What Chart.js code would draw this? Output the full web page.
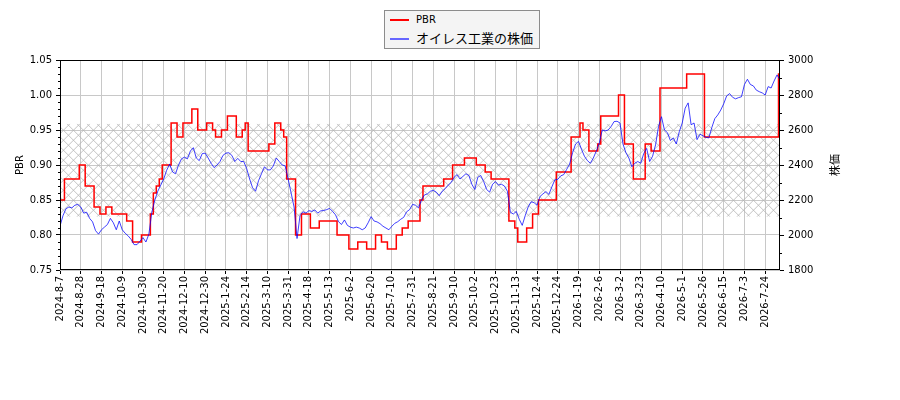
<!DOCTYPE html>
<html>
<head>
<meta charset="utf-8">
<script src="https://cdn.jsdelivr.net/npm/chart.js@4.4.1/dist/chart.umd.min.js"></script>
<style>
    html, body { margin: 0; padding: 0; background: #fff; }
    #wrap { position: relative; width: 900px; height: 400px; }
    #legend {
        position: absolute; left: 384px; top: 10px; width: 154px; height: 37px;
        border: 1px solid #8c8c8c; background: #f4f4f4;
        font-family: "DejaVu Sans", "Noto Sans CJK JP", sans-serif; color: #000;
    }
    .item { position: absolute; left: 0; width: 154px; height: 18px; }
    .swatch { position: absolute; left: 5px; top: 8px; width: 19px; height: 0; }
    .lbl { position: absolute; left: 31px; top: 0; line-height: 18px; white-space: nowrap; }
</style>
</head>
<body>
<div id="wrap">
    <canvas id="chart" width="900" height="400"></canvas>
    <div id="legend">
        <div class="item" style="top:0px"><div class="swatch" style="border-top:2px solid #ff0000"></div><span class="lbl" style="font-size:10px">PBR</span></div>
        <div class="item" style="top:19px"><div class="swatch" style="border-top:2px solid #6666ff"></div><span class="lbl" style="font-size:13px">オイレス工業の株価</span></div>
    </div>
</div>
<script>
// tick labels every 14 trading days, data sampled every 2 trading days (7 samples per tick)
const tickLabels = ['2024-8-7','2024-8-28','2024-9-18','2024-10-9','2024-10-30','2024-11-20','2024-12-10','2024-12-30',
    '2025-1-24','2025-2-14','2025-3-10','2025-3-31','2025-4-18','2025-5-13','2025-6-2','2025-6-20','2025-7-10',
    '2025-7-31','2025-8-21','2025-9-10','2025-10-2','2025-10-23','2025-11-13','2025-12-4','2025-12-24',
    '2026-1-19','2026-2-6','2026-3-2','2026-3-23','2026-4-10','2026-5-1','2026-5-26','2026-6-15','2026-7-3','2026-7-24'];
const samplesPerTick = 7;

// stock price (right axis)
const priceValues = [
    2051,2110,2150,2160,2155,2170,2175,2160,2125,2130,
    2095,2075,2025,2005,2030,2045,2060,2095,2070,2030,
    2080,2030,2010,1995,1975,1945,1945,1965,1985,1960,
    2005,2130,2200,2250,2285,2320,2370,2405,2360,2350,
    2400,2435,2445,2435,2480,2499,2440,2425,2465,2468,
    2440,2410,2385,2400,2420,2455,2468,2470,2455,2420,
    2438,2420,2420,2380,2320,2270,2250,2310,2350,2390,
    2372,2372,2395,2440,2420,2400,2395,2320,2240,2160,
    1980,2110,2133,2125,2139,2135,2143,2125,2138,2140,
    2145,2152,2135,2115,2076,2060,2086,2055,2045,2040,
    2045,2040,2030,2040,2070,2105,2080,2075,2065,2050,
    2040,2030,2050,2067,2076,2090,2101,2133,2145,2175,
    2170,2155,2200,2229,2235,2250,2255,2245,2225,2250,
    2265,2285,2300,2330,2345,2320,2335,2350,2340,2290,
    2260,2330,2340,2305,2260,2245,2290,2305,2285,2290,
    2280,2250,2130,2120,2135,2090,2055,2110,2160,2190,
    2185,2170,2220,2235,2248,2232,2275,2315,2318,2338,
    2345,2375,2405,2470,2520,2535,2490,2450,2425,2410,
    2440,2480,2525,2600,2595,2600,2620,2648,2650,2640,
    2520,2470,2440,2390,2410,2420,2410,2465,2495,2420,
    2450,2515,2620,2676,2600,2585,2540,2555,2520,2590,
    2640,2725,2755,2630,2640,2545,2576,2567,2558,2555,
    2615,2665,2686,2714,2750,2795,2808,2787,2778,2785,
    2790,2860,2890,2860,2852,2828,2819,2812,2800,2848,
    2840,2880,2915,2886
];

// PBR (left axis)
const pbrValues = [
    0.85,0.85,0.88,0.88,0.88,0.88,0.88,0.90,0.90,0.87,
    0.87,0.87,0.84,0.84,0.83,0.83,0.84,0.84,0.83,0.83,
    0.83,0.83,0.83,0.82,0.82,0.79,0.79,0.79,0.80,0.80,
    0.80,0.83,0.86,0.87,0.88,0.90,0.90,0.90,0.96,0.96,
    0.94,0.94,0.96,0.96,0.96,0.98,0.98,0.95,0.95,0.95,
    0.96,0.96,0.95,0.94,0.94,0.95,0.95,0.97,0.97,0.97,
    0.94,0.94,0.95,0.96,0.92,0.92,0.92,0.92,0.92,0.92,
    0.92,0.93,0.93,0.96,0.96,0.95,0.94,0.88,0.88,0.88,
    0.80,0.80,0.83,0.83,0.83,0.81,0.81,0.81,0.82,0.82,
    0.82,0.82,0.82,0.82,0.80,0.80,0.80,0.80,0.78,0.78,
    0.78,0.79,0.79,0.79,0.78,0.78,0.78,0.80,0.80,0.79,
    0.79,0.78,0.78,0.78,0.80,0.80,0.81,0.81,0.82,0.82,
    0.82,0.82,0.85,0.87,0.87,0.87,0.87,0.87,0.87,0.87,
    0.88,0.88,0.88,0.90,0.90,0.90,0.90,0.91,0.91,0.91,
    0.91,0.90,0.90,0.90,0.89,0.89,0.88,0.88,0.88,0.88,
    0.88,0.88,0.82,0.82,0.81,0.79,0.79,0.79,0.81,0.81,
    0.83,0.83,0.85,0.85,0.85,0.85,0.85,0.85,0.89,0.89,
    0.89,0.89,0.89,0.94,0.94,0.94,0.96,0.95,0.95,0.92,
    0.92,0.92,0.93,0.97,0.97,0.97,0.97,0.97,0.97,1.00,
    1.00,0.93,0.93,0.93,0.88,0.88,0.88,0.88,0.93,0.93,
    0.92,0.92,0.92,1.01,1.01,1.01,1.01,1.01,1.01,1.01,
    1.01,1.01,1.03,1.03,1.03,1.03,1.03,1.03,0.94,0.94,
    0.94,0.94,0.94,0.94,0.94,0.94,0.94,0.94,0.94,0.94,
    0.94,0.94,0.94,0.94,0.94,0.94,0.94,0.94,0.94,0.94,
    0.94,0.94,0.94,1.03
];

// hatched PBR range band
const bandLow = 0.826;
const bandHigh = 0.959;

const pbrLabel = 'PBR';
const priceLabel = 'オイレス工業の株価';
const leftTitle = 'PBR';
const rightTitle = '株価';

const FONT = '"DejaVu Sans", "Noto Sans CJK JP", sans-serif';

const toPoints = arr => arr.map((v, i) => ({ x: i, y: v }));

// draws the cross-hatched band behind the lines
const hatchBand = {
    id: 'hatchBand',
    beforeDatasetsDraw(chart) {
        const { ctx, chartArea: a, scales } = chart;
        const top = scales.y.getPixelForValue(bandHigh);
        const bot = scales.y.getPixelForValue(bandLow);
        const h = bot - top;
        const step = 10;
        ctx.save();
        ctx.beginPath();
        ctx.rect(a.left, top, a.right - a.left, h);
        ctx.clip();
        ctx.strokeStyle = '#b4b4b4';
        ctx.lineWidth = 0.8;
        ctx.beginPath();
        for (let x = a.left - h - step; x < a.right + h; x += step) {
            ctx.moveTo(x, bot); ctx.lineTo(x + h, top);
            ctx.moveTo(x, top); ctx.lineTo(x + h, bot);
        }
        ctx.stroke();
        ctx.restore();
    }
};

// frame, minor ticks and axis titles (matplotlib look)
const frameAndTitles = {
    id: 'frameAndTitles',
    afterDraw(chart) {
        const { ctx, chartArea: a, scales } = chart;
        ctx.save();
        ctx.strokeStyle = '#000';
        ctx.lineWidth = 1;
        ctx.strokeRect(Math.round(a.left) + 0.5, Math.round(a.top) + 0.5,
            Math.round(a.right - a.left) - 1, Math.round(a.bottom - a.top) - 1);

        // minor ticks
        ctx.beginPath();
        const yl = scales.y;
        for (let k = 1; k < Math.round((yl.max - yl.min) / 0.01); k++) {
            if (k % 5 === 0) continue;
            const py = Math.round(yl.getPixelForValue(yl.min + k * 0.01)) + 0.5;
            ctx.moveTo(a.left, py); ctx.lineTo(a.left - 2, py);
        }
        const yr = scales.y1;
        for (let k = 1; k < Math.round((yr.max - yr.min) / 100); k++) {
            if (k % 2 === 0) continue;
            const py = Math.round(yr.getPixelForValue(yr.min + k * 100)) + 0.5;
            ctx.moveTo(a.right, py); ctx.lineTo(a.right + 2, py);
        }
        ctx.stroke();

        // axis titles, both read bottom to top
        const midY = (a.top + a.bottom) / 2;
        ctx.fillStyle = '#000';
        ctx.textAlign = 'center';
        ctx.textBaseline = 'middle';
        ctx.translate(20, midY);
        ctx.rotate(-Math.PI / 2);
        ctx.font = '10px ' + FONT;
        ctx.fillText(leftTitle, 0, 0);
        ctx.setTransform(1, 0, 0, 1, 0, 0);
        ctx.translate(836, midY);
        ctx.rotate(-Math.PI / 2);
        ctx.font = '11px ' + FONT;
        ctx.fillText(rightTitle, 0, 0);
        ctx.restore();
    }
};

Chart.defaults.font.family = FONT;
Chart.defaults.font.size = 10;
Chart.defaults.color = '#000';

new Chart(document.getElementById('chart').getContext('2d'), {
    type: 'line',
    data: {
        datasets: [
            {
                label: priceLabel,
                data: toPoints(priceValues),
                yAxisID: 'y1',
                borderColor: 'rgba(0,0,255,0.75)',
                borderWidth: 1,
                pointRadius: 0,
                tension: 0
            },
            {
                label: pbrLabel,
                data: toPoints(pbrValues),
                yAxisID: 'y',
                borderColor: '#ff0000',
                borderWidth: 1.5,
                pointRadius: 0,
                stepped: 'middle'
            }
        ]
    },
    options: {
        responsive: false,
        devicePixelRatio: 1,
        animation: false,
        events: [],
        layout: { padding: { top: 60, left: 0, right: 0, bottom: 0 } },
        plugins: { legend: { display: false }, tooltip: { enabled: false } },
        scales: {
            x: {
                type: 'linear',
                min: 0,
                max: priceValues.length - 1,
                afterFit: s => { s.height = 130; },
                border: { display: false },
                grid: { color: '#c8c8c8', lineWidth: 1, tickColor: '#000', tickLength: 4 },
                ticks: {
                    stepSize: samplesPerTick,
                    includeBounds: false,
                    autoSkip: false,
                    maxRotation: 90,
                    minRotation: 90,
                    padding: 2,
                    callback: v => (v % samplesPerTick === 0 ? tickLabels[v / samplesPerTick] : null)
                }
            },
            y: {
                position: 'left',
                min: 0.75,
                max: 1.05,
                afterFit: s => { s.width = 60; },
                border: { display: false },
                grid: { color: '#c8c8c8', lineWidth: 1, tickColor: '#000', tickLength: 4 },
                ticks: { stepSize: 0.05, padding: 4, callback: v => v.toFixed(2) }
            },
            y1: {
                position: 'right',
                min: 1800,
                max: 3000,
                afterFit: s => { s.width = 120; },
                border: { display: false },
                grid: { drawOnChartArea: false, tickColor: '#000', tickLength: 4 },
                ticks: { stepSize: 200, padding: 4, callback: v => String(v) }
            }
        }
    },
    plugins: [hatchBand, frameAndTitles]
});
</script>
</body>
</html>
